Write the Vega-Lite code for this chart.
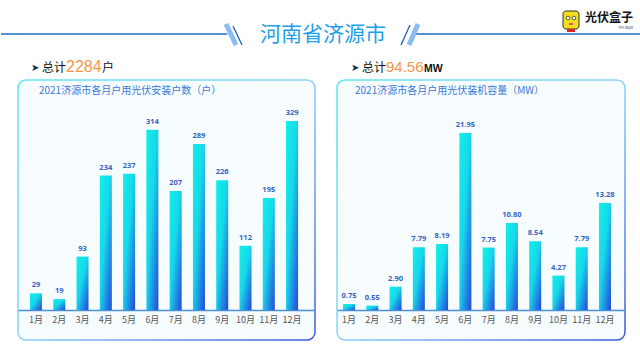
{
  "$schema": "https://vega.github.io/schema/vega-lite/v6.json",
  "padding": 0,
  "background": "white",
  "spacing": 0,
  "config": {
    "view": {"stroke": null},
    "font": "Noto Sans CJK SC",
    "text": {"font": "Noto Sans CJK SC"}
  },
  "datasets": {
    "installs": [
      {"month": "1月", "value": 29}, {"month": "2月", "value": 19}, {"month": "3月", "value": 93},
      {"month": "4月", "value": 234}, {"month": "5月", "value": 237}, {"month": "6月", "value": 314},
      {"month": "7月", "value": 207}, {"month": "8月", "value": 289}, {"month": "9月", "value": 226},
      {"month": "10月", "value": 112}, {"month": "11月", "value": 195}, {"month": "12月", "value": 329}
    ],
    "capacity": [
      {"month": "1月", "value": 0.75}, {"month": "2月", "value": 0.55}, {"month": "3月", "value": 2.90},
      {"month": "4月", "value": 7.79}, {"month": "5月", "value": 8.19}, {"month": "6月", "value": 21.95},
      {"month": "7月", "value": 7.75}, {"month": "8月", "value": 10.80}, {"month": "9月", "value": 8.54},
      {"month": "10月", "value": 4.27}, {"month": "11月", "value": 7.79}, {"month": "12月", "value": 13.28}
    ],
    "one": [{"k": 1}],
    "titles": [
      {"panel": "left", "label": "2021济源市各月户用光伏安装户数（户）"},
      {"panel": "right", "label": "2021济源市各月户用光伏装机容量（MW）"}
    ]
  },
  "vconcat": [
    {
      "width": 623,
      "height": 79,
      "data": {"name": "one"},
      "layer": [
        {"mark": {"type": "rule", "color": "#1a6ec6", "strokeWidth": 1.5},
         "encoding": {
           "x": {"datum": 0, "type": "quantitative", "scale": {"domain": [17, 640], "nice": false, "zero": false}, "axis": null},
           "x2": {"datum": 226},
           "y": {"datum": 34, "type": "quantitative", "scale": {"domain": [0, 79], "reverse": true, "nice": false, "zero": false}, "axis": null}
         }},
        {"mark": {"type": "rule", "color": "#1a6ec6", "strokeWidth": 1.5},
         "encoding": {"x": {"datum": 414, "type": "quantitative"}, "x2": {"datum": 640}, "y": {"datum": 34, "type": "quantitative"}}},
        {"mark": {"type": "rule", "color": "#8cbcf6", "strokeWidth": 5},
         "encoding": {"x": {"datum": 225, "type": "quantitative"}, "x2": {"datum": 235}, "y": {"datum": 24, "type": "quantitative"}, "y2": {"datum": 45}}},
        {"mark": {"type": "rule", "color": "#1f5fb4", "strokeWidth": 1.3},
         "encoding": {"x": {"datum": 232, "type": "quantitative"}, "x2": {"datum": 241}, "y": {"datum": 26, "type": "quantitative"}, "y2": {"datum": 45}}},
        {"mark": {"type": "rule", "color": "#1f5fb4", "strokeWidth": 1.3},
         "encoding": {"x": {"datum": 409, "type": "quantitative"}, "x2": {"datum": 400}, "y": {"datum": 25, "type": "quantitative"}, "y2": {"datum": 45}}},
        {"mark": {"type": "rule", "color": "#8cbcf6", "strokeWidth": 5},
         "encoding": {"x": {"datum": 417, "type": "quantitative"}, "x2": {"datum": 408}, "y": {"datum": 24, "type": "quantitative"}, "y2": {"datum": 45}}},
        {"mark": {"type": "text", "text": "河南省济源市", "fontSize": 21, "color": "#1e9fe8", "align": "center", "baseline": "middle"},
         "encoding": {"x": {"datum": 322, "type": "quantitative"}, "y": {"datum": 35, "type": "quantitative"}}},
        {"mark": {"type": "rect", "fill": "#f3de1e", "stroke": "#333333", "strokeWidth": 1, "cornerRadius": 3},
         "encoding": {"x": {"datum": 562, "type": "quantitative"}, "x2": {"datum": 578}, "y": {"datum": 11, "type": "quantitative"}, "y2": {"datum": 29}}},
        {"mark": {"type": "rect", "fill": "#d8262a"},
         "encoding": {"x": {"datum": 566, "type": "quantitative"}, "x2": {"datum": 574}, "y": {"datum": 29, "type": "quantitative"}, "y2": {"datum": 32}}},
        {"mark": {"type": "point", "filled": true, "fill": "white", "stroke": "#333333", "strokeWidth": 0.8, "size": 14, "opacity": 1},
         "encoding": {"x": {"datum": 567, "type": "quantitative"}, "y": {"datum": 18, "type": "quantitative"}}},
        {"mark": {"type": "point", "filled": true, "fill": "white", "stroke": "#333333", "strokeWidth": 0.8, "size": 14, "opacity": 1},
         "encoding": {"x": {"datum": 573, "type": "quantitative"}, "y": {"datum": 18, "type": "quantitative"}}},
        {"mark": {"type": "rect", "fill": "#e0506a"},
         "encoding": {"x": {"datum": 568, "type": "quantitative"}, "x2": {"datum": 572}, "y": {"datum": 23, "type": "quantitative"}, "y2": {"datum": 25}}},
        {"mark": {"type": "text", "text": "光伏盒子", "fontSize": 12, "fontWeight": "bold", "color": "#111111", "align": "left", "baseline": "middle"},
         "encoding": {"x": {"datum": 584, "type": "quantitative"}, "y": {"datum": 18, "type": "quantitative"}}},
        {"mark": {"type": "text", "text": "PV-BOX", "fontSize": 4, "color": "#333333", "align": "right", "baseline": "middle"},
         "encoding": {"x": {"datum": 632, "type": "quantitative"}, "y": {"datum": 28, "type": "quantitative"}}},
        {"mark": {"type": "text", "text": "➤", "font": "DejaVu Sans", "fontSize": 10, "color": "#1a2a55", "align": "left", "baseline": "middle"},
         "encoding": {"x": {"datum": 30, "type": "quantitative"}, "y": {"datum": 68, "type": "quantitative"}}},
        {"mark": {"type": "text", "text": "总计", "fontSize": 12, "color": "#111111", "align": "left", "baseline": "middle"},
         "encoding": {"x": {"datum": 41, "type": "quantitative"}, "y": {"datum": 68, "type": "quantitative"}}},
        {"mark": {"type": "text", "text": "2284", "font": "Liberation Sans", "fontSize": 16, "color": "#f7944a", "align": "left", "baseline": "middle"},
         "encoding": {"x": {"datum": 65, "type": "quantitative"}, "y": {"datum": 67, "type": "quantitative"}}},
        {"mark": {"type": "text", "text": "户", "fontSize": 12, "color": "#111111", "align": "left", "baseline": "middle"},
         "encoding": {"x": {"datum": 101, "type": "quantitative"}, "y": {"datum": 68, "type": "quantitative"}}},
        {"mark": {"type": "text", "text": "➤", "font": "DejaVu Sans", "fontSize": 10, "color": "#1a2a55", "align": "left", "baseline": "middle"},
         "encoding": {"x": {"datum": 350, "type": "quantitative"}, "y": {"datum": 68, "type": "quantitative"}}},
        {"mark": {"type": "text", "text": "总计", "fontSize": 12, "color": "#111111", "align": "left", "baseline": "middle"},
         "encoding": {"x": {"datum": 361, "type": "quantitative"}, "y": {"datum": 68, "type": "quantitative"}}},
        {"mark": {"type": "text", "text": "94.56", "font": "Liberation Sans", "fontSize": 15, "color": "#f7944a", "align": "left", "baseline": "middle"},
         "encoding": {"x": {"datum": 385, "type": "quantitative"}, "y": {"datum": 67, "type": "quantitative"}}},
        {"mark": {"type": "text", "text": "MW", "font": "Liberation Sans", "fontSize": 10.5, "fontWeight": "bold", "color": "#111111", "align": "left", "baseline": "middle"},
         "encoding": {"x": {"datum": 423, "type": "quantitative"}, "y": {"datum": 69, "type": "quantitative"}}}
      ]
    },
    {
      "spacing": 20,
      "hconcat": [
        {
          "width": 297,
          "height": 260,
          "view": {
            "fill": "#f7fdff",
            "cornerRadius": 8,
            "strokeWidth": 1.5,
            "stroke": {"gradient": "linear", "x1": 0, "y1": 0, "x2": 1, "y2": 1,
              "stops": [{"offset": 0, "color": "#5ee6ee"}, {"offset": 0.5, "color": "#8cd2f6"}, {"offset": 1, "color": "#3c58e0"}]}
          },
          "layer": [
            {"data": {"name": "installs"},
             "mark": {"type": "bar", "color": {"gradient": "linear", "x1": 0, "y1": 0, "x2": 1, "y2": 1,
              "stops": [{"offset": 0, "color": "#10f0e8"}, {"offset": 0.45, "color": "#16d8ea"}, {"offset": 1, "color": "#2844dc"}]}},
             "encoding": {
               "x": {"field": "month", "type": "ordinal", "sort": null,
                 "scale": {"paddingInner": 0.484, "paddingOuter": 0.62, "align": 0.414},
                 "axis": {"title": null, "offset": -30, "ticks": false, "labelPadding": 5, "labelFontSize": 9, "labelColor": "#555555", "labelAngle": 0, "labelFont": "Noto Sans CJK SC", "domainColor": "#4a8fd8", "domainWidth": 1.5, "grid": false}},
               "y": {"field": "value", "type": "quantitative",
                 "scale": {"domain": [-52.2, 400.4], "nice": false, "zero": false},
                 "axis": {"labels": false, "ticks": false, "domain": false, "grid": false, "title": null, "minExtent": 17, "maxExtent": 17}},
               "y2": {"datum": 0}
             }},
            {"data": {"name": "installs"},
             "mark": {"type": "text", "dy": -8, "fontSize": 7.5, "fontWeight": "bold", "color": "#3464c4", "baseline": "middle", "font": "Noto Sans"},
             "encoding": {
               "x": {"field": "month", "type": "ordinal", "sort": null},
               "y": {"field": "value", "type": "quantitative"},
               "text": {"field": "value", "type": "quantitative"}
             }},
            {"data": {"name": "titles"},
             "transform": [{"filter": "datum.panel === 'left'"}],
             "mark": {"type": "text", "align": "left", "baseline": "middle", "dx": 3, "fontSize": 10, "color": "#3a78d6"},
             "encoding": {
               "x": {"datum": "1月", "type": "ordinal"},
               "y": {"datum": 381, "type": "quantitative"},
               "text": {"field": "label", "type": "nominal"}
             }}
          ]
        },
        {
          "width": 288,
          "height": 260,
          "view": {
            "fill": "#f7fdff",
            "cornerRadius": 8,
            "strokeWidth": 1.5,
            "stroke": {"gradient": "linear", "x1": 0, "y1": 0, "x2": 1, "y2": 1,
              "stops": [{"offset": 0, "color": "#5ee6ee"}, {"offset": 0.5, "color": "#8cd2f6"}, {"offset": 1, "color": "#3c58e0"}]}
          },
          "layer": [
            {"data": {"name": "capacity"},
             "mark": {"type": "bar", "color": {"gradient": "linear", "x1": 0, "y1": 0, "x2": 1, "y2": 1,
              "stops": [{"offset": 0, "color": "#10f0e8"}, {"offset": 0.45, "color": "#16d8ea"}, {"offset": 1, "color": "#2844dc"}]}},
             "encoding": {
               "x": {"field": "month", "type": "ordinal", "sort": null,
                 "scale": {"paddingInner": 0.484, "paddingOuter": 0.43, "align": 0.3},
                 "axis": {"title": null, "offset": -30, "ticks": false, "labelPadding": 5, "labelFontSize": 9, "labelColor": "#555555", "labelAngle": 0, "labelFont": "Noto Sans CJK SC", "domainColor": "#4a8fd8", "domainWidth": 1.5, "grid": false}},
               "y": {"field": "value", "type": "quantitative",
                 "scale": {"domain": [-3.72, 28.54], "nice": false, "zero": false},
                 "axis": null},
               "y2": {"datum": 0}
             }},
            {"data": {"name": "capacity"},
             "mark": {"type": "text", "dy": -8, "fontSize": 7.5, "fontWeight": "bold", "color": "#3464c4", "baseline": "middle", "font": "Noto Sans"},
             "encoding": {
               "x": {"field": "month", "type": "ordinal", "sort": null},
               "y": {"field": "value", "type": "quantitative"},
               "text": {"field": "value", "type": "quantitative", "format": ".2f"}
             }},
            {"data": {"name": "titles"},
             "transform": [{"filter": "datum.panel === 'right'"}],
             "mark": {"type": "text", "align": "left", "baseline": "middle", "dx": 6, "fontSize": 10, "color": "#3a78d6"},
             "encoding": {
               "x": {"datum": "1月", "type": "ordinal"},
               "y": {"datum": 27.2, "type": "quantitative"},
               "text": {"field": "label", "type": "nominal"}
             }}
          ]
        }
      ]
    }
  ]
}
